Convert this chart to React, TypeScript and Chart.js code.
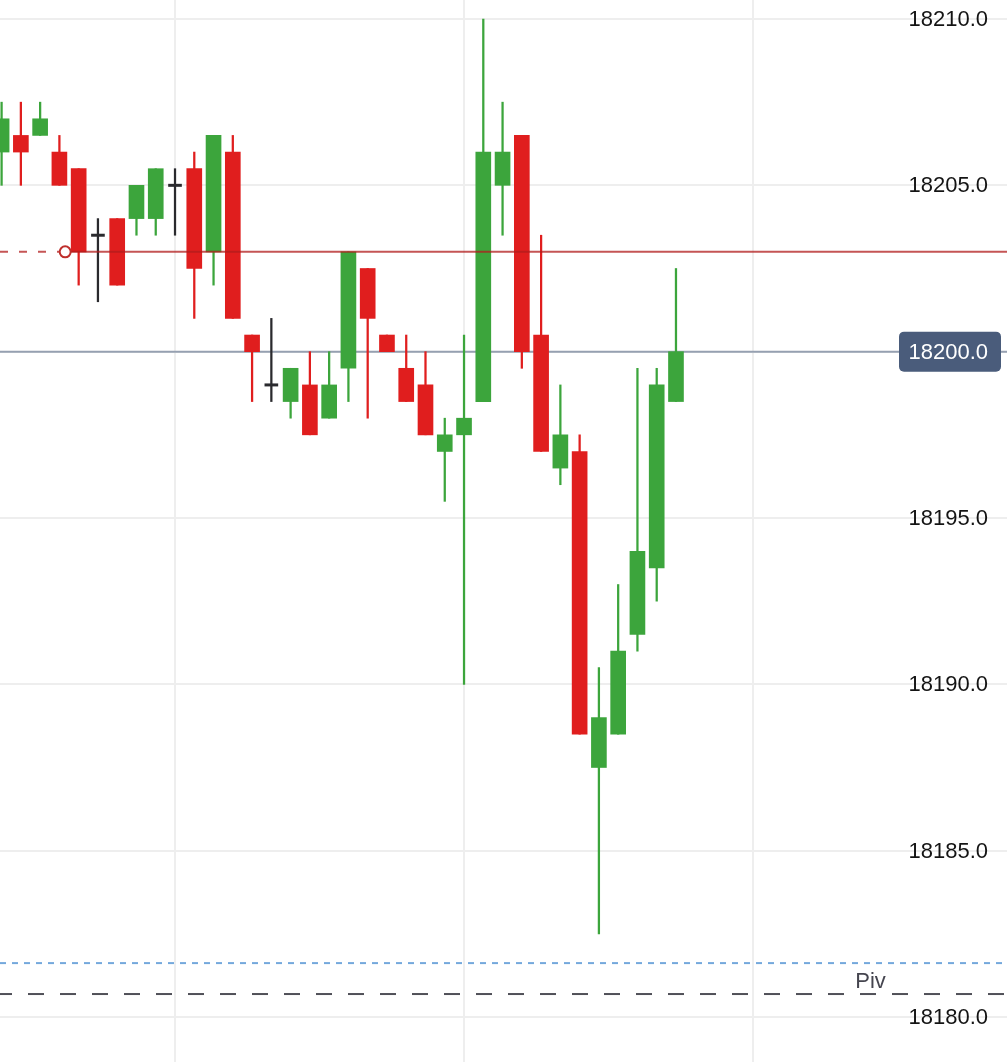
import React, { useEffect, useRef } from "react";
import { Chart, registerables } from "chart.js";

Chart.register(...registerables);

// ---- data ----
const candleIndex = [
  0, 1, 2, 3, 4, 5, 6, 7, 8, 9, 10, 11, 12, 13, 14, 15, 16, 17,
  18, 19, 20, 21, 22, 23, 24, 25, 26, 27, 28, 29, 30, 31, 32, 33, 34, 35,
];
const opens = [
  18206, 18206.5, 18206.5, 18206, 18205.5, 18203.5, 18204, 18204, 18204, 18205,
  18205.5, 18203, 18206, 18200.5, 18199, 18198.5, 18199, 18198, 18199.5, 18202.5,
  18200.5, 18199.5, 18199, 18197, 18197.5, 18198.5, 18205, 18206.5, 18200.5, 18196.5,
  18197, 18187.5, 18188.5, 18191.5, 18193.5, 18198.5,
];
const highs = [
  18207.5, 18207.5, 18207.5, 18206.5, 18205.5, 18204, 18204, 18205, 18205.5, 18205.5,
  18206, 18206.5, 18206.5, 18200.5, 18201, 18199.5, 18200, 18200, 18203, 18202.5,
  18200.5, 18200.5, 18200, 18198, 18200.5, 18210, 18207.5, 18206.5, 18203.5, 18199,
  18197.5, 18190.5, 18193, 18199.5, 18199.5, 18202.5,
];
const lows = [
  18205, 18205, 18206.5, 18205, 18202, 18201.5, 18202, 18203.5, 18203.5, 18203.5,
  18201, 18202, 18201, 18198.5, 18198.5, 18198, 18197.5, 18198, 18198.5, 18198,
  18200, 18198.5, 18197.5, 18195.5, 18190, 18198.5, 18203.5, 18199.5, 18197, 18196,
  18188.5, 18182.5, 18188.5, 18191, 18192.5, 18198.5,
];
const closes = [
  18207, 18206, 18207, 18205, 18203, 18203.5, 18202, 18205, 18205.5, 18205,
  18202.5, 18206.5, 18201, 18200, 18199, 18199.5, 18197.5, 18199, 18203, 18201,
  18200, 18198.5, 18197.5, 18197.5, 18198, 18206, 18206, 18200, 18197, 18197.5,
  18188.5, 18189, 18191, 18194, 18199, 18200,
];

const priceTicks = [18180, 18185, 18190, 18195, 18200, 18205, 18210];
const timeGrid = [9, 24, 39];

const lastPrice = 18200;
const entryPrice = 18203;
const entryAt = 3.3;
const pivotPrice = 18180.69;
const pivotLabel = "Piv";
const pivotLabelAt = 45.1;
const supportPrice = 18181.62;

// axis ranges
const X_MIN = -0.083;
const X_MAX = 52.18;
const Y_MIN = 18178.647;
const Y_MAX = 18210.571;

const GREEN = "#3ca53c";
const RED = "#e01e1e";
const DOJI = "#2a2a2e";
const FONT = "'Liberation Sans', Arial, Helvetica, sans-serif";

const isDoji = (i: number) => opens[i] === closes[i];
const colorOf = (i: number) =>
  isDoji(i) ? DOJI : closes[i] > opens[i] ? GREEN : RED;

export default function App() {
  const ref = useRef<HTMLCanvasElement | null>(null);

  useEffect(() => {
    const canvas = ref.current;
    if (!canvas) return;

    const wicks = candleIndex.map((i) => ({ x: i, y: [lows[i], highs[i]] }));
    const bodies = candleIndex.map((i) =>
      isDoji(i) ? { x: i, y: null } : { x: i, y: [opens[i], closes[i]] }
    );
    const dojis = candleIndex.map((i) =>
      isDoji(i)
        ? { x: i, y: [opens[i] - 0.035, opens[i] + 0.035] }
        : { x: i, y: null }
    );

    const axisLabels = {
      id: "axisLabels",
      beforeDatasetsDraw(chart: any) {
        const { ctx, chartArea, scales } = chart;
        const y = scales.y;
        ctx.save();
        ctx.font = `22px ${FONT}`;
        ctx.fillStyle = "#141414";
        ctx.textAlign = "right";
        ctx.textBaseline = "middle";
        priceTicks.forEach((v) => {
          ctx.fillText(v.toFixed(1), chartArea.right - 19, y.getPixelForValue(v) + 1);
        });
        ctx.restore();
      },
    };

    const overlay = {
      id: "overlay",
      afterDraw(chart: any) {
        const { ctx, chartArea, scales } = chart;
        const y = scales.y;
        const x = scales.x;
        ctx.save();
        // pivot label
        ctx.font = `22px ${FONT}`;
        ctx.fillStyle = "#45454f";
        ctx.textAlign = "center";
        ctx.textBaseline = "alphabetic";
        ctx.fillText(
          pivotLabel,
          x.getPixelForValue(pivotLabelAt),
          y.getPixelForValue(pivotPrice) - 6
        );
        // last price box
        const py = y.getPixelForValue(lastPrice);
        const right = chartArea.right - 6;
        const w = 102;
        const h = 40;
        ctx.fillStyle = "#4a5c7b";
        ctx.beginPath();
        if ((ctx as any).roundRect) {
          (ctx as any).roundRect(right - w, py - h / 2, w, h, 5);
        } else {
          ctx.rect(right - w, py - h / 2, w, h);
        }
        ctx.fill();
        ctx.fillStyle = "#ffffff";
        ctx.textAlign = "right";
        ctx.textBaseline = "middle";
        ctx.fillText(lastPrice.toFixed(1), chartArea.right - 19, py + 1);
        ctx.restore();
      },
    };

    const chart = new Chart(canvas, {
      type: "bar",
      data: {
        datasets: [
          {
            type: "line",
            data: [{ x: entryAt, y: entryPrice }],
            showLine: false,
            pointRadius: 5.5,
            pointBorderWidth: 2,
            pointBorderColor: "#bf2f2c",
            pointBackgroundColor: "#ffffff",
            order: 0,
          } as any,
          {
            type: "line",
            data: [
              { x: entryAt, y: entryPrice },
              { x: X_MAX, y: entryPrice },
            ],
            borderColor: "rgba(178, 28, 28, 0.75)",
            borderWidth: 2,
            pointRadius: 0,
            order: 1,
          } as any,
          {
            type: "line",
            data: [
              { x: X_MIN, y: entryPrice },
              { x: entryAt, y: entryPrice },
            ],
            borderColor: "rgba(178, 28, 28, 0.75)",
            borderWidth: 2,
            borderDash: [8, 11],
            pointRadius: 0,
            order: 1,
          } as any,
          {
            data: bodies,
            backgroundColor: (c: any) => colorOf(c.dataIndex),
            barThickness: 15,
            grouped: false,
            order: 2,
          } as any,
          {
            data: dojis,
            backgroundColor: DOJI,
            barThickness: 13,
            grouped: false,
            order: 2,
          } as any,
          {
            data: wicks,
            backgroundColor: (c: any) => colorOf(c.dataIndex),
            barThickness: 1.6,
            grouped: false,
            order: 3,
          } as any,
          {
            type: "line",
            data: [
              { x: X_MIN, y: lastPrice },
              { x: X_MAX, y: lastPrice },
            ],
            borderColor: "#96a0b1",
            borderWidth: 2,
            pointRadius: 0,
            order: 5,
          } as any,
          {
            type: "line",
            data: [
              { x: X_MIN, y: supportPrice },
              { x: X_MAX, y: supportPrice },
            ],
            borderColor: "#74a8dc",
            borderWidth: 2,
            borderDash: [6, 6],
            pointRadius: 0,
            order: 5,
          } as any,
          {
            type: "line",
            data: [
              { x: X_MIN, y: pivotPrice },
              { x: X_MAX, y: pivotPrice },
            ],
            borderColor: "#505058",
            borderWidth: 2,
            borderDash: [16, 16],
            borderDashOffset: 4,
            pointRadius: 0,
            order: 5,
          } as any,
        ],
      },
      options: {
        responsive: false,
        maintainAspectRatio: false,
        devicePixelRatio: 1,
        animation: false,
        layout: { padding: 0, autoPadding: false },
        plugins: {
          legend: { display: false },
          tooltip: { enabled: false },
        },
        scales: {
          x: {
            type: "linear",
            min: X_MIN,
            max: X_MAX,
            offset: false,
            afterBuildTicks: (s: any) => {
              s.ticks = timeGrid.map((v) => ({ value: v }));
            },
            afterFit: (s: any) => {
              s.height = 0;
              s.paddingLeft = 0;
              s.paddingRight = 0;
            },
            ticks: { display: false },
            grid: { color: "#eeeeee", lineWidth: 2, drawTicks: false, offset: false },
            border: { display: false },
          },
          y: {
            type: "linear",
            position: "right",
            min: Y_MIN,
            max: Y_MAX,
            afterBuildTicks: (s: any) => {
              s.ticks = priceTicks.map((v) => ({ value: v }));
            },
            afterFit: (s: any) => {
              s.width = 0;
              s.paddingTop = 0;
              s.paddingBottom = 0;
            },
            ticks: { display: false },
            grid: { color: "#eeeeee", lineWidth: 2, drawTicks: false },
            border: { display: false },
          },
        },
      } as any,
      plugins: [axisLabels, overlay],
    });

    return () => chart.destroy();
  }, []);

  return (
    <div
      style={{
        position: "fixed",
        left: 0,
        top: 0,
        width: 1007,
        height: 1062,
        background: "#ffffff",
      }}
    >
      <canvas
        ref={ref}
        width={1007}
        height={1062}
        style={{ display: "block", width: 1007, height: 1062 }}
      />
    </div>
  );
}
